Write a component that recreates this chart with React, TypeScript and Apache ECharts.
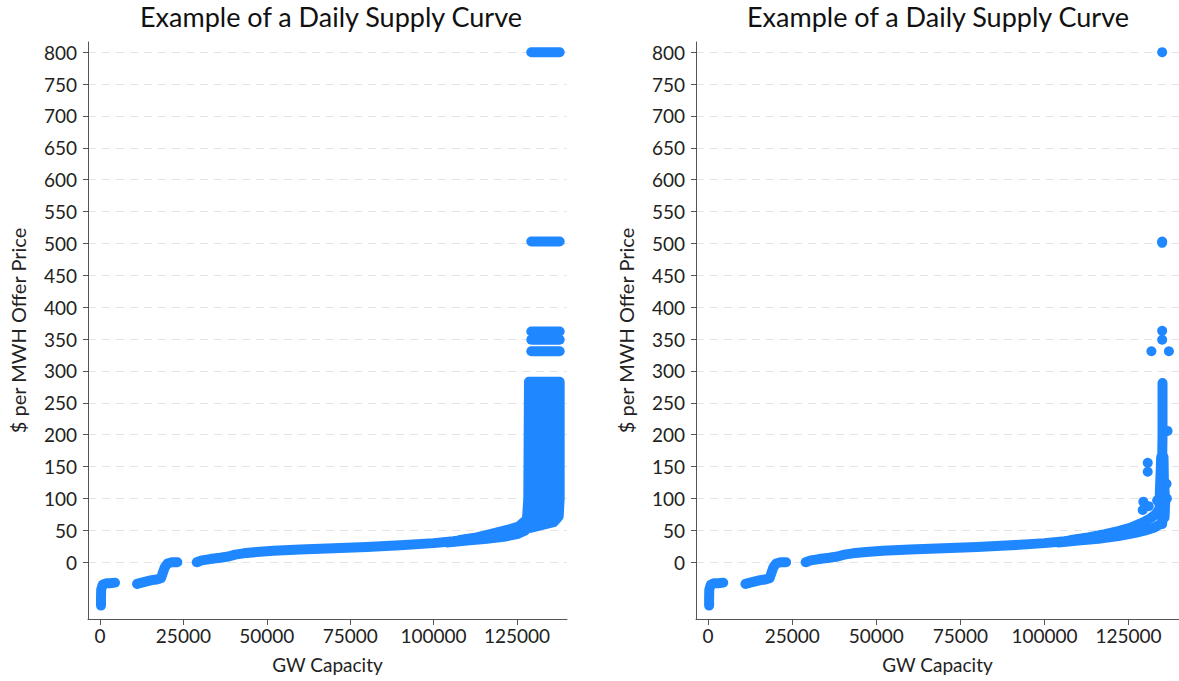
import React, { useEffect, useRef } from "react";
import * as echarts from "echarts";

const TITLE = "Example of a Daily Supply Curve";
const X_NAME = "GW Capacity";
const Y_NAME = "$ per MWH Offer Price";
const xTicks = [0, 25000, 50000, 75000, 100000, 125000];
const yTicks = [0, 50, 100, 150, 200, 250, 300, 350, 400, 450, 500, 550, 600, 650, 700, 750, 800];
const X_MIN = -3600;
const X_MAX = 140000;
const Y_MIN = -89;
const Y_MAX = 816;

// ---- Left panel (all offers) ----
const negativeOffers = [[300, -68], [300, -55], [350, -43], [800, -35], [1800, -33], [3000, -33], [4500, -32]];
const lowBidOffers = [[11100, -34], [12500, -32], [14000, -30], [15500, -28], [17000, -27], [18300, -25], [18800, -17], [19400, -8], [20200, -2], [21500, 0], [23200, 0]];
const mainCurve = [[29000, 0], [30500, 3], [33000, 5], [36000, 7], [38500, 9], [40500, 12], [43000, 14], [47000, 16], [52000, 18], [60000, 20], [70000, 22], [80000, 24], [90000, 26.5], [100000, 30], [106000, 33], [112000, 37], [117000, 41]];
const leftUpper = [[108000, 35], [113000, 39], [117000, 44], [120000, 48], [123000, 52], [125500, 56], [127500, 65]];
const leftLower = [[104000, 31], [110000, 34], [116000, 37], [121000, 40], [125000, 44], [127500, 50]];
const leftBlob = [[127300, 54], [128000, 68], [128400, 100], [128600, 283], [137800, 283], [137800, 100], [137500, 72], [136000, 63], [132000, 58], [129000, 54]];
const leftPriceCaps = [
  [[129300, 800], [137800, 800]],
  [[129300, 503], [137800, 503]],
  [[129300, 362], [137800, 362]],
  [[129300, 349], [137800, 349]],
  [[129300, 331], [137800, 331]],
];

// ---- Right panel (single hour) ----
const rightUpper = [[108000, 35], [113000, 39], [118000, 44], [122000, 49], [126000, 55], [129500, 63], [131500, 69], [133000, 75], [134000, 82]];
const rightLower = [[104000, 31], [110000, 34], [116000, 37], [122000, 41], [127000, 46], [130000, 50], [132500, 54], [134500, 60]];
const rightSpike = [[135000, 60], [135200, 90], [134900, 120], [135000, 160], [135100, 200], [135100, 240], [135100, 281]];
const rightSpikeLeft = [[134200, 75], [134300, 110], [134600, 150], [134700, 165]];
const rightSpikeRight = [[135700, 70], [135900, 95], [135500, 130], [135400, 165]];
const rightOutliers = [[135000, 800], [135000, 503], [135000, 501], [135000, 363], [135000, 349], [131800, 331], [137000, 331], [136600, 206], [130700, 156], [130700, 142], [136300, 123], [129400, 95], [129200, 82], [133500, 97], [136400, 100], [131000, 88]];

const BLUE = "#1f87ff";
const STROKE = 10;
const FONT = "Lato";

function stroke(data: number[][], idx: number) {
  return {
    type: "line",
    xAxisIndex: idx,
    yAxisIndex: idx,
    data,
    symbol: "none",
    showSymbol: false,
    silent: true,
    lineStyle: { color: BLUE, width: STROKE, cap: "round", join: "round" },
  };
}

function axesFor(idx: number) {
  const x = {
    type: "value",
    gridIndex: idx,
    min: X_MIN,
    max: X_MAX,
    name: X_NAME,
    nameLocation: "middle",
    nameGap: 36,
    nameTextStyle: { fontFamily: FONT, fontSize: 19, color: "#222" },
    axisLine: { show: true, onZero: false, lineStyle: { color: "#555", width: 1 } },
    axisTick: { show: true, length: 6, customValues: xTicks, lineStyle: { color: "#555" } },
    axisLabel: { customValues: xTicks, formatter: (v: number) => String(v), fontFamily: FONT, fontSize: 19, color: "#222", margin: 7 },
    splitLine: { show: false },
  };
  const y = {
    type: "value",
    gridIndex: idx,
    min: Y_MIN,
    max: Y_MAX,
    name: Y_NAME,
    nameLocation: "middle",
    nameGap: 60,
    nameTextStyle: { fontFamily: FONT, fontSize: 20, color: "#222" },
    axisLine: { show: true, onZero: false, lineStyle: { color: "#555", width: 1 } },
    axisTick: { show: true, length: 5, customValues: yTicks, lineStyle: { color: "#555" } },
    axisLabel: { customValues: yTicks, fontFamily: FONT, fontSize: 19, color: "#222", margin: 11 },
    splitLine: { show: true, lineStyle: { color: "#e4e4e4", type: [8, 6], width: 1 } },
  };
  return { x, y };
}

export default function App() {
  const ref = useRef<HTMLDivElement>(null);
  useEffect(() => {
    document.body.style.margin = "0";
    if (!ref.current) return;
    const chart = echarts.init(ref.current, null, { renderer: "svg" });
    const a0 = axesFor(0);
    const a1 = axesFor(1);
    const series: any[] = [];
    [negativeOffers, lowBidOffers, mainCurve, leftUpper, leftLower, ...leftPriceCaps].forEach((d) => series.push(stroke(d, 0)));
    series.push({
      type: "custom",
      xAxisIndex: 0,
      yAxisIndex: 0,
      silent: true,
      data: leftBlob,
      renderItem: (params: any, api: any) => {
        if (params.dataIndex !== 0) return null;
        const pts = leftBlob.map((p) => api.coord(p));
        return {
          type: "polygon",
          shape: { points: pts },
          style: { fill: BLUE, stroke: BLUE, lineWidth: STROKE, lineJoin: "round" },
        };
      },
    });
    [negativeOffers, lowBidOffers, mainCurve, rightUpper, rightLower, rightSpike, rightSpikeLeft, rightSpikeRight].forEach((d) => series.push(stroke(d, 1)));
    series.push({
      type: "scatter",
      xAxisIndex: 1,
      yAxisIndex: 1,
      data: rightOutliers,
      symbol: "circle",
      symbolSize: STROKE,
      silent: true,
      itemStyle: { color: BLUE, opacity: 1 },
    });
    const titleStyle = { fontFamily: FONT, fontSize: 27, fontWeight: "normal", color: "#111" };
    chart.setOption({
      animation: false,
      backgroundColor: "#ffffff",
      textStyle: { fontFamily: FONT },
      title: [
        { text: TITLE, left: 331, top: 3, textAlign: "center", padding: 0, textStyle: titleStyle },
        { text: TITLE, left: 938, top: 3, textAlign: "center", padding: 0, textStyle: titleStyle },
      ],
      grid: [
        { left: 88, right: 612, top: 42, bottom: 62, containLabel: false },
        { left: 696, right: 0, top: 42, bottom: 62, containLabel: false },
      ],
      xAxis: [a0.x, a1.x],
      yAxis: [a0.y, a1.y],
      series,
    });
    return () => chart.dispose();
  }, []);
  return <div ref={ref} style={{ width: 1179, height: 681 }} />;
}
